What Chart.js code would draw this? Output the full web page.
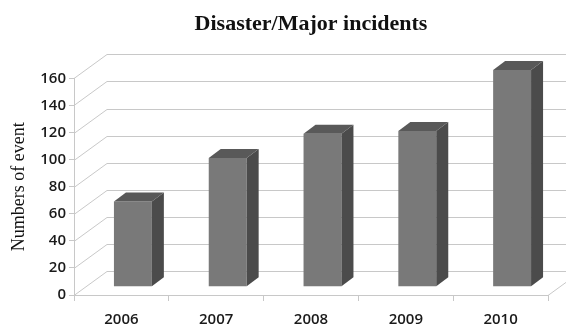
<!DOCTYPE html>
<html>
<head>
<meta charset="utf-8">
<script src="https://cdn.jsdelivr.net/npm/chart.js@4/dist/chart.umd.min.js"></script>
<style>
  html, body { margin: 0; padding: 0; background: #fff; }
  #wrap { width: 566px; height: 328px; }
</style>
</head>
<body>
<div id="wrap"><canvas id="incidentChart"></canvas></div>
<script>
// Chart data
const years = ["2006", "2007", "2008", "2009", "2010"];
const events = [63, 95, 113, 115, 160];
const yMin = 0;
const yMax = 160;
const yStep = 20;

// 3D look: offsets of the back wall and of the bars (in pixels)
const wallDx = 33, wallDy = -24;
const barShiftX = 11.5, barShiftY = -8.3;
const barDepthX = 12, barDepthY = -9;

const gridColor = "#c8c8c8";

// Plugin drawing walls, floor and bar side/top faces
const threeD = {
  id: "threeD",
  beforeDatasetsDraw(chart) {
    const ctx = chart.ctx;
    const y = chart.scales.y;
    const a = chart.chartArea;
    ctx.save();
    ctx.strokeStyle = gridColor;
    ctx.lineWidth = 1;
    ctx.beginPath();
    y.ticks.forEach(t => {
      const py = Math.round(y.getPixelForValue(t.value)) + 0.5;
      ctx.moveTo(a.left, py);
      ctx.lineTo(a.left + wallDx, py + wallDy);
      ctx.lineTo(chart.width + 50, py + wallDy);
    });
    // right edge of the floor
    const by = Math.round(y.getPixelForValue(0)) + 0.5;
    ctx.moveTo(a.right, by);
    ctx.lineTo(a.right + wallDx, by + wallDy);
    ctx.stroke();
    ctx.restore();

    // bars stand in the middle of the depth
    ctx.save();
    ctx.translate(barShiftX, barShiftY);
  },
  afterDatasetsDraw(chart) {
    const ctx = chart.ctx;
    chart.getDatasetMeta(0).data.forEach(bar => {
      const p = bar.getProps(["x", "y", "base", "width"], true);
      const l = p.x - p.width / 2, r = p.x + p.width / 2;
      // side face
      ctx.fillStyle = "#4b4b4b";
      ctx.beginPath();
      ctx.moveTo(r, p.y);
      ctx.lineTo(r + barDepthX, p.y + barDepthY);
      ctx.lineTo(r + barDepthX, p.base + barDepthY);
      ctx.lineTo(r, p.base);
      ctx.closePath();
      ctx.fill();
      // top face
      ctx.fillStyle = "#595959";
      ctx.beginPath();
      ctx.moveTo(l, p.y);
      ctx.lineTo(l + barDepthX, p.y + barDepthY);
      ctx.lineTo(r + barDepthX, p.y + barDepthY);
      ctx.lineTo(r, p.y);
      ctx.closePath();
      ctx.fill();
    });
    ctx.restore();
  }
};

new Chart(document.getElementById("incidentChart"), {
  type: "bar",
  data: {
    labels: years,
    datasets: [
      {
        data: events,
        backgroundColor: "#797979",
        borderWidth: 0,
        categoryPercentage: 0.8,
        barPercentage: 0.5,
        clip: false,
      },
    ],
  },
  options: {
    responsive: true,
    maintainAspectRatio: false,
    animation: false,
    layout: { padding: { left: 0, right: 18, top: 0, bottom: 0 } },
    plugins: {
      legend: { display: false },
      tooltip: { enabled: false },
      title: {
        display: true,
        fullSize: false,
        text: "Disaster/Major incidents",
        color: "#111",
        font: { family: "Liberation Serif", size: 22, weight: "bold" },
        padding: { top: 11, bottom: 41 },
      },
    },
    scales: {
      x: {
        grid: {
          drawOnChartArea: false,
          drawTicks: true,
          tickLength: 6,
          color: gridColor,
          offset: true,
        },
        border: { display: true, color: gridColor },
        ticks: {
          color: "#1a1a1a",
          font: { family: "Open Sans", size: 15, weight: "600" },
          padding: 10,
        },
        afterFit(scale) { scale.height = 33; },
      },
      y: {
        min: yMin,
        max: yMax,
        ticks: {
          stepSize: yStep,
          color: "#1a1a1a",
          font: { family: "Open Sans", size: 15, weight: "600" },
          padding: 3,
        },
        grid: {
          drawOnChartArea: false,
          drawTicks: true,
          tickLength: 5,
          color: gridColor,
        },
        border: { display: true, color: gridColor },
        title: {
          display: true,
          text: "Numbers of event",
          color: "#111",
          font: { family: "Liberation Serif", size: 18 },
          padding: { top: 8, bottom: 0 },
        },
        afterFit(scale) { scale.width = 74; },
      },
    },
  },
  plugins: [threeD],
});
</script>
</body>
</html>
